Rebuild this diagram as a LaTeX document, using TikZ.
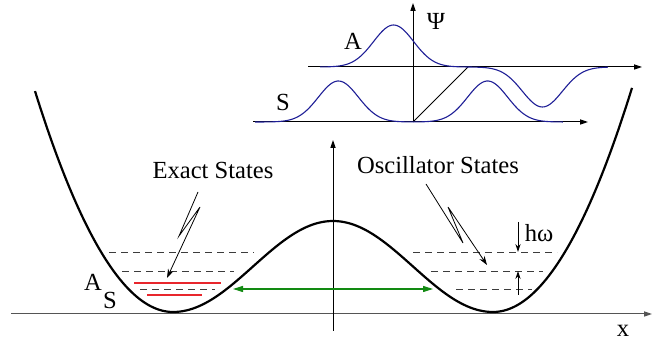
\documentclass[tikz,border=0pt]{standalone}
\usepackage{fontspec}
\setmainfont{Liberation Serif}
\usetikzlibrary{arrows.meta,positioning,calc}
\definecolor{wblue}{HTML}{1E1E96}
\definecolor{lvred}{HTML}{E8262C}
\definecolor{tgreen}{HTML}{128A12}
\definecolor{dgrey}{HTML}{3C3C3C}
\definecolor{agrey}{HTML}{555555}

\begin{document}
\begin{tikzpicture}[x=0.5pt,y=-0.5pt,
  font=\fontsize{12.3}{14}\selectfont,
  pot/.style={line width=1.1pt,line join=round},
  ax/.style={line width=0.5pt,-{Triangle[length=4pt,width=2.6pt]}},
  lev/.style={draw=dgrey,line width=0.45pt,dash pattern=on 3.5pt off 2.5pt},
  exact/.style={draw=lvred,line width=0.7pt},
  wave/.style={draw=wblue,line width=0.55pt},
  bolt/.style={line width=0.4pt,line join=miter,-{Stealth[length=4.5pt,width=3pt]}},
  quant/.style={line width=0.45pt,-{Stealth[length=4pt,width=2.6pt]}},
  lbl/.style={inner sep=0pt}]
  \useasboundingbox (0,0) rectangle (653,340);

  % main axes
  \coordinate (xl) at (11,314);  \coordinate (xr) at (652,314);
  \coordinate (vb) at (333,331); \coordinate (vt) at (333,140);
  \draw[ax,draw=agrey] (xl)--(xr);
  \draw[ax] (vb)--(vt);
  \node[lbl] (xlab) at (623,331) {x};

  % double well: parabolic outer walls, cosine barrier
  \draw[pot] plot[domain=35:173,samples=50,smooth] (\x,{312-1.16*((173-\x)/10)^2})
    -- plot[domain=173:493,samples=100,smooth] (\x,{312-45.5*(1-cos(1.125*(\x-173)))})
    -- plot[domain=493:632,samples=50,smooth] (\x,{312-1.16*((\x-493)/10)^2});

  % levels, left well
  \draw[lev] (109,252)--(254,252);
  \draw[lev] (122,271)--(234,271);
  \draw[lev] (140,289)--(215,289);
  \draw[exact] (134,283)--(221,283);
  \draw[exact] (147,295)--(202,295);
  \node[lbl] (lA) at (93,282) {A};
  \node[lbl] (lS) at (110,300) {S};

  % levels, right well
  \draw[lev] (413,252)--(557,252);
  \draw[lev] (431,271)--(543,271);
  \draw[lev] (456,289)--(532,289);

  % tunnelling
  \coordinate (tl) at (233,289); \coordinate (tr) at (433,289);
  \draw[line width=0.55pt,tgreen,{Triangle[length=5pt,width=3pt]}-{Triangle[length=5pt,width=3pt]}] (tl)--(tr);

  % h omega
  \coordinate (q1) at (518,222); \coordinate (q2) at (518,252);
  \coordinate (q3) at (518,295); \coordinate (q4) at (518,271);
  \draw[quant] (q1)--(q2);
  \draw[quant] (q3)--(q4);
  \node[lbl] (hw) at (539,233) {hω};

  % labels with lightning arrows
  \node[lbl] (exact) at (213,170) {Exact States};
  \draw[bolt] (198,192)--(179,236)--(200,207)--(167,278);
  \node[lbl] (osc) at (438,165) {Oscillator States};
  \draw[bolt] (426,184)--(463,243)--(448,207)--(487,265);

  % inset: wave functions
  \coordinate (sl) at (253,122); \coordinate (sr) at (588,122);
  \coordinate (al) at (308,67);  \coordinate (ar) at (642,67);
  \coordinate (o) at (413,122);  \coordinate (oa) at (468,67);
  \coordinate (pt) at (413,3);
  \draw[ax] (sl)--(sr);
  \draw[ax] (al)--(ar);
  \draw[ax] (o)--(pt);
  \draw[line width=0.4pt] (o)--(oa);
  \draw[wave] plot[domain=-7.9:7.5,samples=150,smooth]
    ({413+20*\x},{122-41*(exp(-min((\x+3.73)^2/2,15))+exp(-min((\x-3.73)^2/2,15)))});
  \draw[wave] plot[domain=-7.4:7.0,samples=150,smooth]
    ({468+20*\x},{67-42*exp(-min((\x+3.72)^2/2,15))+40*exp(-min((\x-3.72)^2/2,15))});
  \node[lbl] (psi) at (436,21) {Ψ};
  \node[lbl] (iA) at (353,41) {A};
  \node[lbl] (iS) at (283,102) {S};
\end{tikzpicture}
\end{document}
